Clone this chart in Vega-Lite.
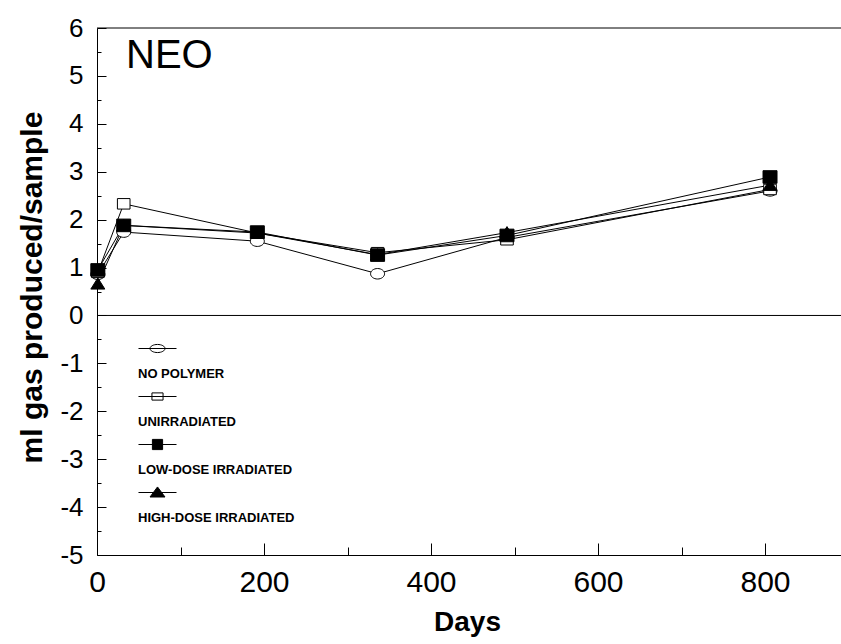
{
  "$schema": "https://vega.github.io/schema/vega-lite/v6.json",
  "width": 744,
  "height": 527,
  "autosize": {"type": "none"},
  "padding": {"left": 97, "top": 28, "right": 0, "bottom": 89},
  "background": "white",
  "config": {
    "view": {"stroke": null},
    "font": "Liberation Sans",
    "axis": {"grid": false, "domainColor": "black", "tickColor": "black", "labelColor": "black", "titleColor": "black", "labelFont": "Liberation Sans", "titleFont": "Liberation Sans", "domainWidth": 1, "tickWidth": 1}
  },
  "title": {"text": "NEO", "anchor": "start", "frame": "group", "orient": "top", "offset": -93, "dx": 29, "fontSize": 40, "fontWeight": "normal", "font": "Liberation Sans", "baseline": "alphabetic", "color": "black"},
  "datasets": {
    "gas": [
      {"series": "NO POLYMER", "day": 1, "ml": 0.86},
      {"series": "NO POLYMER", "day": 32, "ml": 1.74},
      {"series": "NO POLYMER", "day": 192, "ml": 1.55},
      {"series": "NO POLYMER", "day": 336, "ml": 0.87},
      {"series": "NO POLYMER", "day": 491, "ml": 1.63},
      {"series": "NO POLYMER", "day": 806, "ml": 2.6},
      {"series": "UNIRRADIATED", "day": 1, "ml": 0.9},
      {"series": "UNIRRADIATED", "day": 32, "ml": 2.33},
      {"series": "UNIRRADIATED", "day": 192, "ml": 1.72},
      {"series": "UNIRRADIATED", "day": 336, "ml": 1.31},
      {"series": "UNIRRADIATED", "day": 491, "ml": 1.58},
      {"series": "UNIRRADIATED", "day": 806, "ml": 2.63},
      {"series": "HIGH-DOSE IRRADIATED", "day": 1, "ml": 0.66},
      {"series": "HIGH-DOSE IRRADIATED", "day": 32, "ml": 1.88},
      {"series": "HIGH-DOSE IRRADIATED", "day": 192, "ml": 1.72},
      {"series": "HIGH-DOSE IRRADIATED", "day": 336, "ml": 1.27},
      {"series": "HIGH-DOSE IRRADIATED", "day": 491, "ml": 1.73},
      {"series": "HIGH-DOSE IRRADIATED", "day": 806, "ml": 2.72},
      {"series": "LOW-DOSE IRRADIATED", "day": 1, "ml": 0.95},
      {"series": "LOW-DOSE IRRADIATED", "day": 32, "ml": 1.88},
      {"series": "LOW-DOSE IRRADIATED", "day": 192, "ml": 1.74},
      {"series": "LOW-DOSE IRRADIATED", "day": 336, "ml": 1.26},
      {"series": "LOW-DOSE IRRADIATED", "day": 491, "ml": 1.67},
      {"series": "LOW-DOSE IRRADIATED", "day": 806, "ml": 2.89}
    ]
  },
  "data": {"name": "gas"},
  "resolve": {
    "axis": {"x": "independent", "y": "independent"},
    "scale": {"shape": "independent", "fill": "independent"}
  },
  "layer": [
    {
      "data": {"values": [{}]},
      "mark": {"type": "rule", "color": "black", "strokeWidth": 1},
      "encoding": {"y": {"datum": 0, "type": "quantitative", "axis": null}}
    },
    {
      "data": {"values": [{}]},
      "mark": {"type": "rule", "color": "black", "strokeWidth": 1},
      "encoding": {"y": {"datum": 6, "type": "quantitative", "axis": null}}
    },
    {
      "mark": {"type": "line", "color": "black", "strokeWidth": 1},
      "encoding": {
        "x": {"field": "day", "type": "quantitative", "scale": {"domain": [0, 891], "nice": false, "zero": false},
          "axis": {"orient": "bottom", "values": [0, 200, 400, 600, 800], "ticks": false, "labelFlush": false, "labelFontSize": 30, "labelPadding": 12, "title": "Days", "titleFontSize": 28, "titleFontWeight": "bold", "titleX": 370, "titleY": 75, "titleBaseline": "alphabetic", "titleAlign": "center"}},
        "y": {"field": "ml", "type": "quantitative", "scale": {"domain": [-5, 6], "nice": false, "zero": false},
          "axis": {"orient": "left", "values": [-5, -4, -3, -2, -1, 0, 1, 2, 3, 4, 5, 6], "ticks": false, "labelFlush": false, "labelExpr": "'' + datum.value", "labelFontSize": 26, "labelPadding": 14, "title": "ml gas produced/sample", "titleFontSize": 30, "titleFontWeight": "bold", "titleX": -65, "titleY": 259, "titleAngle": -90, "titleAlign": "center", "titleBaseline": "middle"}},
        "detail": {"field": "series"}
      }
    },
    {
      "mark": {"type": "point", "filled": true, "stroke": "black", "strokeWidth": 1, "size": 196, "opacity": 1},
      "encoding": {
        "x": {"field": "day", "type": "quantitative",
          "axis": {"orient": "top", "offset": -527, "values": [0, 200, 400, 600, 800], "labels": false, "domain": false, "tickSize": 12, "title": null}},
        "y": {"field": "ml", "type": "quantitative",
          "axis": {"orient": "right", "offset": -744, "values": [-5, -4, -3, -2, -1, 0, 1, 2, 3, 4, 5, 6], "labels": false, "domain": false, "tickSize": 9, "title": null}},
        "shape": {"field": "series", "type": "nominal", "legend": null,
          "scale": {"domain": ["NO POLYMER", "UNIRRADIATED", "LOW-DOSE IRRADIATED", "HIGH-DOSE IRRADIATED"],
            "range": ["M-1,0A1,0.75 0 1,0 1,0A1,0.75 0 1,0 -1,0Z", "M-0.9,-0.75H0.9V0.75H-0.9Z", "M-1,-0.9H1V0.9H-1Z", "M0,-0.85L1,0.75H-1Z"]}},
        "fill": {"field": "series", "type": "nominal", "legend": null,
          "scale": {"domain": ["NO POLYMER", "UNIRRADIATED", "LOW-DOSE IRRADIATED", "HIGH-DOSE IRRADIATED"], "range": ["white", "white", "black", "black"]}}
      }
    },
    {
      "mark": {"type": "point", "filled": true, "stroke": "black", "strokeWidth": 1, "opacity": 0},
      "encoding": {
        "x": {"field": "day", "type": "quantitative",
          "axis": {"orient": "top", "offset": -527, "values": [100, 300, 500, 700], "labels": false, "domain": false, "tickSize": 8, "title": null}},
        "y": {"field": "ml", "type": "quantitative",
          "axis": {"orient": "right", "offset": -744, "values": [-4.5, -3.5, -2.5, -1.5, -0.5, 0.5, 1.5, 2.5, 3.5, 4.5, 5.5], "labels": false, "domain": false, "tickSize": 4, "title": null}},
        "shape": {"field": "series", "type": "nominal",
          "scale": {"domain": ["NO POLYMER", "UNIRRADIATED", "LOW-DOSE IRRADIATED", "HIGH-DOSE IRRADIATED"],
            "range": ["M-1.267,0H1.267M-0.5,0A0.5,0.27 0 1,0 0.5,0A0.5,0.27 0 1,0 -0.5,0Z", "M-1.267,0H1.267M-0.37,-0.24H0.37V0.24H-0.37Z", "M-1.267,0H1.267M-0.34,-0.34H0.34V0.34H-0.34Z", "M-1.267,0H1.267M0,-0.37L0.5,0.3H-0.5Z"]},
          "legend": {"orient": "none", "legendX": 45, "legendY": 305, "title": null, "padding": 0, "symbolSize": 900, "symbolStrokeWidth": 1, "symbolStrokeColor": "black", "symbolOpacity": 1, "labelFontSize": 13, "labelFontWeight": "bold", "labelFont": "Liberation Sans", "labelColor": "black", "labelOffset": -35, "labelBaseline": "middle", "labelLimit": 0, "rowPadding": 0,
            "encode": {"symbols": {"update": {"stroke": {"value": "black"}, "strokeWidth": {"value": 1}, "opacity": {"value": 1}}}, "labels": {"update": {"dy": {"value": 25}}}}}},
        "fill": {"field": "series", "type": "nominal",
          "scale": {"domain": ["NO POLYMER", "UNIRRADIATED", "LOW-DOSE IRRADIATED", "HIGH-DOSE IRRADIATED"], "range": ["white", "white", "black", "black"]},
          "legend": {"orient": "none", "legendX": 45, "legendY": 305, "title": null, "padding": 0, "symbolSize": 900, "symbolStrokeWidth": 1, "symbolStrokeColor": "black", "symbolOpacity": 1, "labelFontSize": 13, "labelFontWeight": "bold", "labelFont": "Liberation Sans", "labelColor": "black", "labelOffset": -35, "labelBaseline": "middle", "labelLimit": 0, "rowPadding": 0,
            "encode": {"symbols": {"update": {"stroke": {"value": "black"}, "strokeWidth": {"value": 1}, "opacity": {"value": 1}}}, "labels": {"update": {"dy": {"value": 25}}}}}}
      }
    }
  ]
}
